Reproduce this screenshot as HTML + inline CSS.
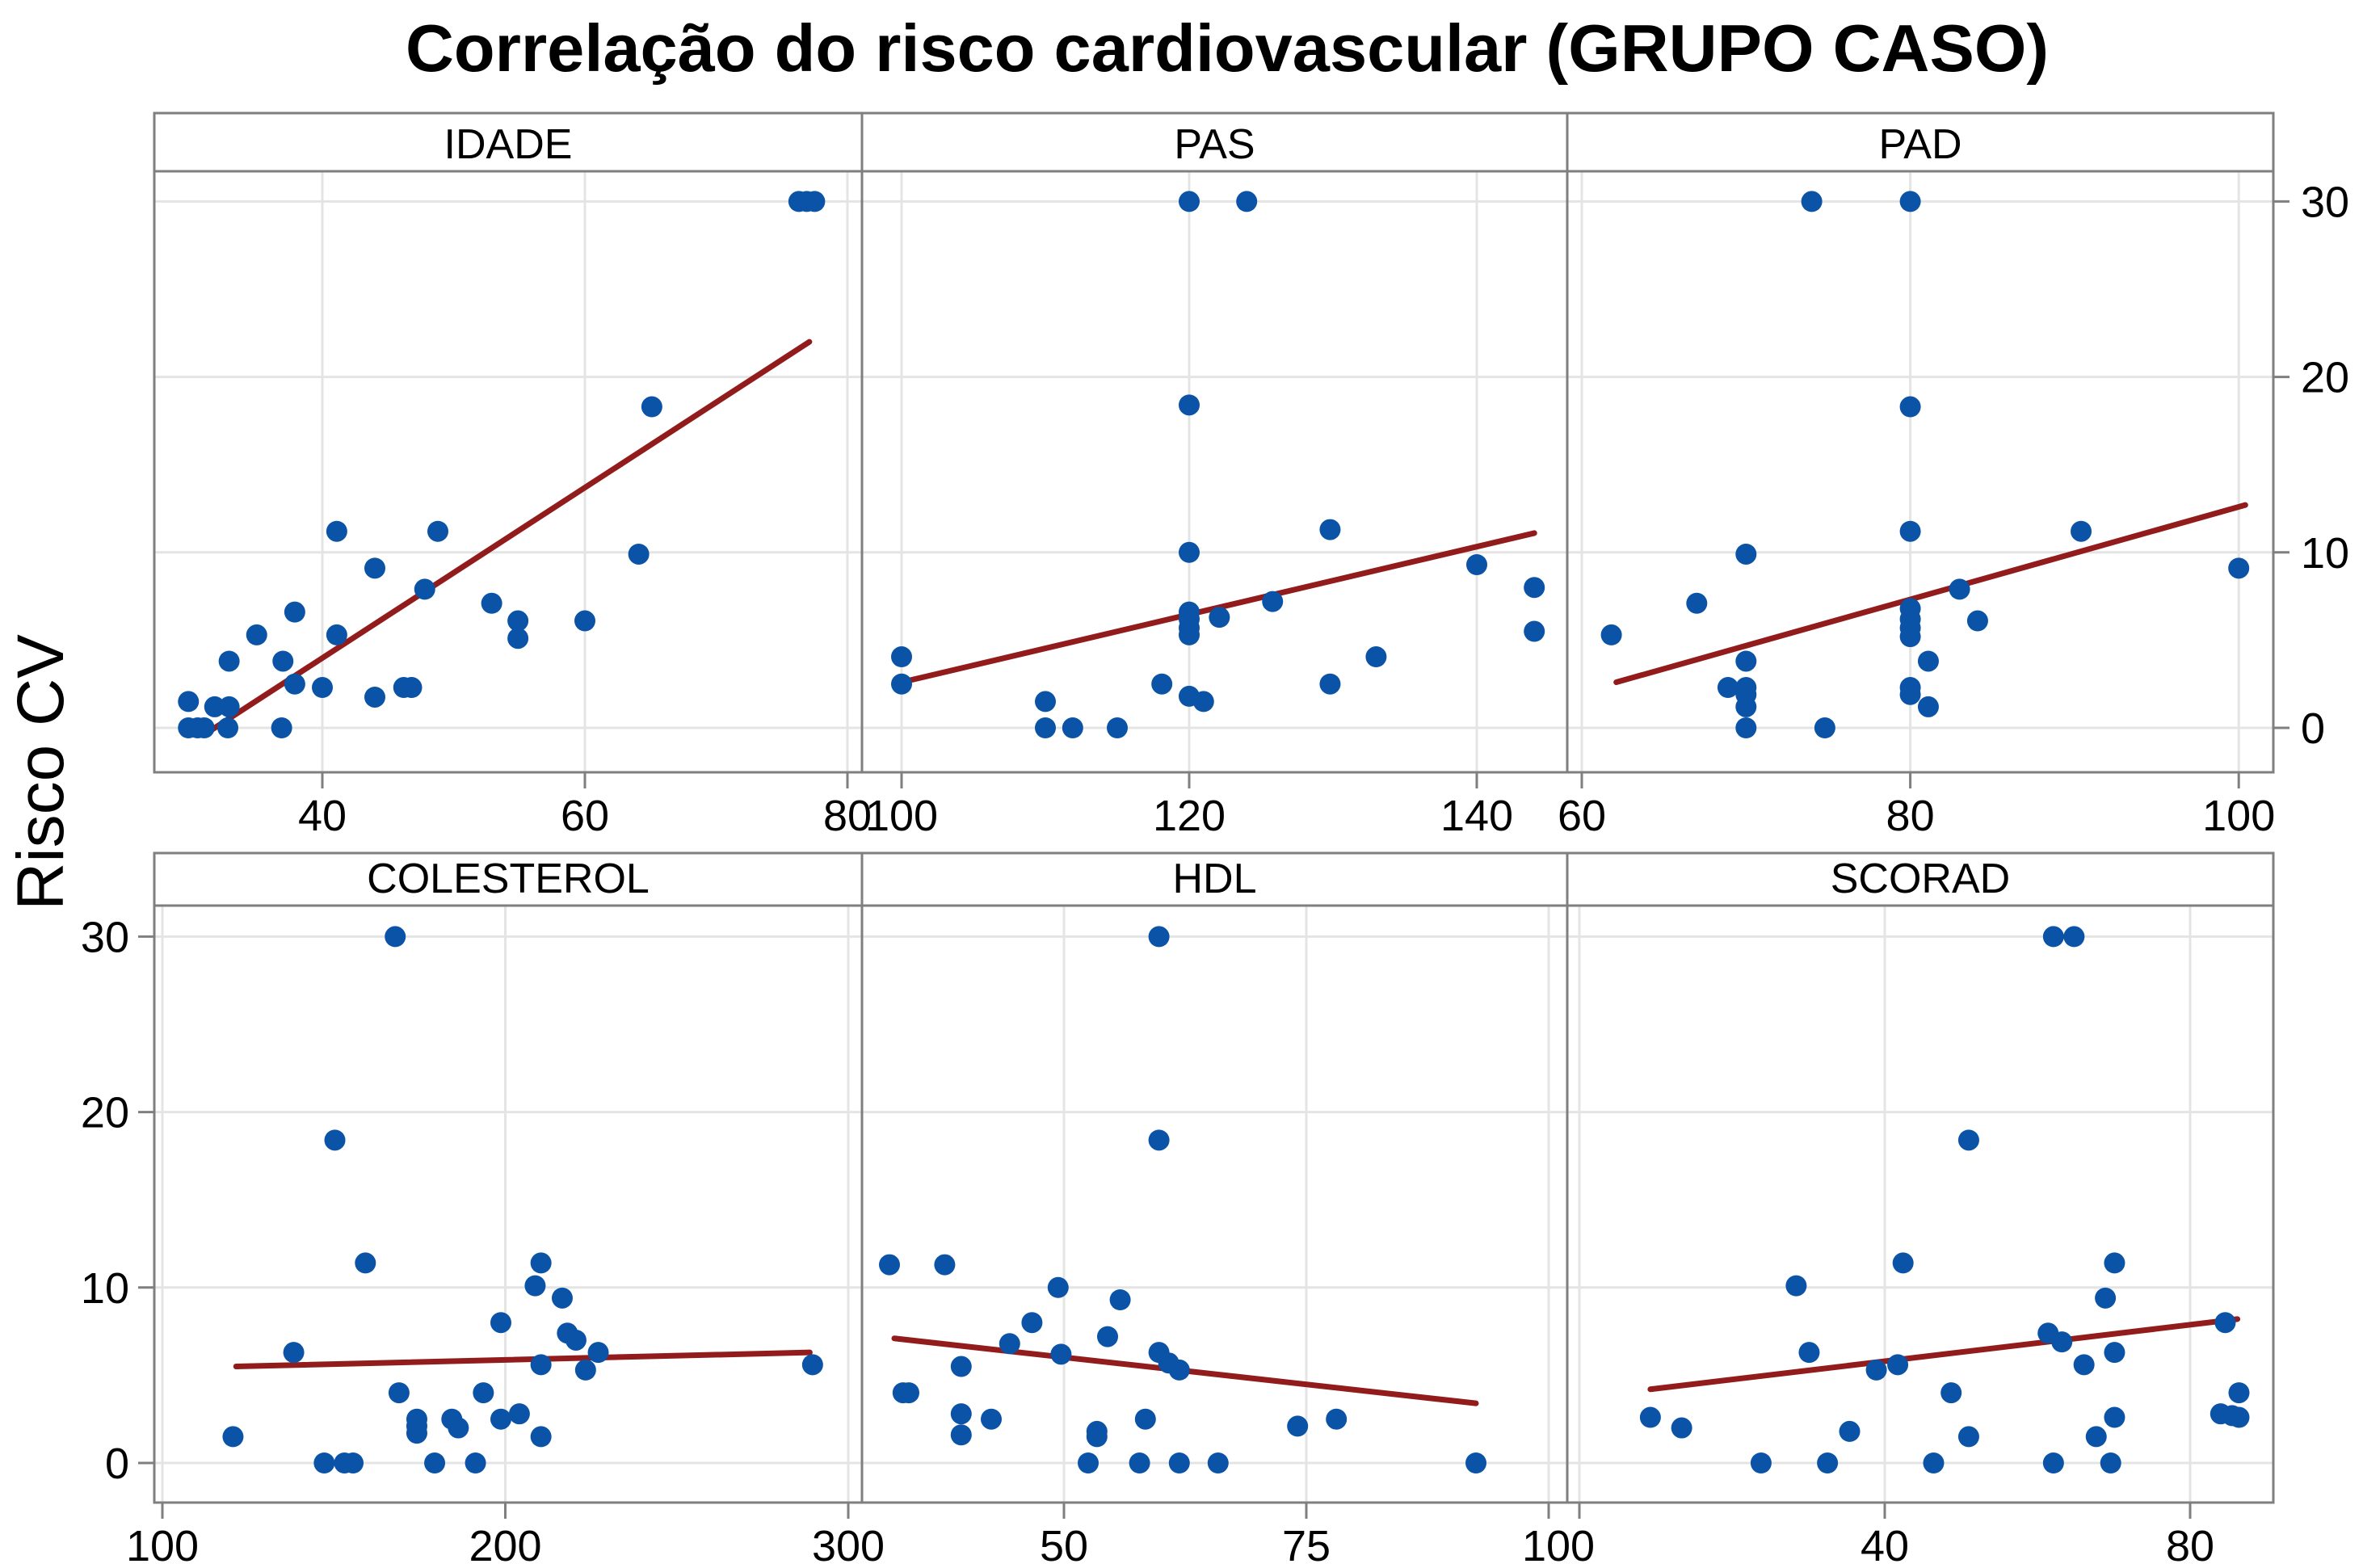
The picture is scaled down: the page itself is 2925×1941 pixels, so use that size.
<!DOCTYPE html>
<html><head><meta charset="utf-8"><style>
html,body{margin:0;padding:0;background:#fff;}
svg{display:block;font-family:"Liberation Sans",Arial,sans-serif;}
</style></head><body>
<svg id="chart" width="2925" height="1941" viewBox="0 0 2925 1941" xmlns="http://www.w3.org/2000/svg">
<text x="1519" y="88" text-anchor="middle" font-size="83" font-weight="bold">Correlação do risco cardiovascular (GRUPO CASO)</text>
<text transform="translate(78,956) rotate(-90)" text-anchor="middle" font-size="82">Risco CV</text>
<g id="panels"></g>
</svg>
<script>
// ---- data ----
const panelNames = ["IDADE","PAS","PAD","COLESTEROL","HDL","SCORAD"];
const idadeX = [29.8,30.5,31,32.8,36.9,29.8,31.8,32.9,32.9,35,37,37.9,37.9,40,41.1,41.1,44,44,46.2,46.8,47.8,48.8,52.9,54.9,54.9,60,64.1,65.1,76.3,76.9,77.5];
const idadeY = [0,0,0,0,0,1.5,1.2,1.2,3.8,5.3,3.8,6.6,2.5,2.3,5.3,11.2,9.1,1.75,2.3,2.3,7.9,11.2,7.1,6.1,5.1,6.1,9.9,18.3,30,30,30];
const pasX = [100,100,110,110,111.9,115,118.1,120,121,120,120,120,124,120,120,120,120,122.1,125.8,129.8,129.8,133,140,144,144];
const pasY = [4.05,2.5,1.5,0,0,0,2.5,1.8,1.5,10,18.4,30,30,5.3,5.7,6.2,6.6,6.3,7.2,11.3,2.5,4.05,9.3,8,5.5];
const padX = [74,80,80,80,90.4,70,100,67,83,84.1,61.8,80,80,80,80,81.1,70,68.9,70,70,70,80,80,81.1,70,74.8];
const padY = [30,30,18.3,11.2,11.2,9.9,9.1,7.1,7.9,6.1,5.3,6.8,6.2,5.7,5.2,3.8,3.8,2.3,2.3,1.9,1.2,2.3,1.9,1.2,0,0];
const colX = [120.6,138.3,147.2,150.3,153.1,155.6,159.2,167.9,169,174.2,174.2,174.2,179.4,184.4,186.3,191.3,193.6,198.7,198.7,204.1,208.7,210.4,210.4,210.4,216.6,218.1,220.6,223.4,227.1,289.6];
const colY = [1.5,6.3,0,18.4,0,0,11.4,30,4,2.5,2.1,1.7,0,2.5,2,0,4,8,2.5,2.8,10.1,11.4,5.6,1.5,9.4,7.4,7,5.3,6.3,5.6];
const hdlX = [32,33.4,34,37.7,39.4,39.4,39.4,42.5,44.4,46.7,49.4,49.7,52.5,53.4,53.4,54.5,55.8,57.8,58.4,59.8,59.8,59.8,60.8,61.9,61.9,65.9,74.1,78.1,92.5];
const hdlY = [11.3,4,4,11.3,5.5,2.8,1.6,2.5,6.8,8,10,6.2,0,1.8,1.5,7.2,9.3,0,2.5,30,18.4,6.3,5.7,5.3,0,0,2.1,2.5,0];
const scoX = [9.3,13.4,23.8,28.4,30.1,32.5,35.4,38.9,41.7,42.4,46.4,48.7,51,51,61.4,62.1,62.1,63.2,64.8,66.1,67.7,68.9,69.6,70.1,70.1,70.1,84,84.6,85.5,86.4,86.4];
const scoY = [2.6,2,0,10.1,6.3,0,1.8,5.3,5.6,11.4,0,4,18.4,1.5,7.4,30,0,6.9,30,5.6,1.5,9.4,0,11.4,6.3,2.6,2.8,8,2.7,4,2.6];
// fitted line endpoints [x0,y0,x1,y1]
const idadeFit = [31.6,-0.1,77.1,22];
const pasFit = [100,2.6,144,11.1];
const padFit = [62.1,2.6,100.4,12.7];
const colFit = [121.5,5.5,288.8,6.3];
const hdlFit = [32.5,7.1,92.5,3.4];
const scoFit = [9.3,4.2,86.2,8.2];
const idadeTicks = [40,60,80];
const pasTicks = [100,120,140];
const padTicks = [60,80,100];
const colTicks = [100,200,300];
const hdlTicks = [50,75,100];
const scoTicks = [0,40,80];
const yTicks = [0,10,20,30];

// ---- layout ----
const NS = "http://www.w3.org/2000/svg";
const g = document.getElementById("panels");
function mk(tag, attrs, parent){const e=document.createElementNS(NS,tag);for(const k in attrs)e.setAttribute(k,attrs[k]);(parent||g).appendChild(e);return e;}
const cols = [[191,1067],[1067,1940],[1940,2814]];
const rows = [{st:140,pt:212,pb:956,y0:901},{st:1056,pt:1121,pb:1860,y0:1811}];
const yScale = 21.72;
const xMaps = [
 {o:399,v0:40,k:16.25},{o:1116,v0:100,k:17.8},{o:1958,v0:60,k:20.33},
 {o:201,v0:100,k:4.245},{o:1317,v0:50,k:12.0},{o:2333,v0:40,k:9.45}];
const xs = [idadeX,pasX,padX,colX,hdlX,scoX];
const ys = [idadeY,pasY,padY,colY,hdlY,scoY];
const fits = [idadeFit,pasFit,padFit,colFit,hdlFit,scoFit];
const ticks = [idadeTicks,pasTicks,padTicks,colTicks,hdlTicks,scoTicks];
const hideLabel = [[],[],[],[],[],[0]];
const labelShift = [[0,0,0],[0,0,0],[0,0,0],[0,0,0],[0,0,12],[0,0,0]];

for(let p=0;p<6;p++){
  const r = rows[Math.floor(p/3)], c = cols[p%3];
  const m = xMaps[p];
  const X = v => m.o + (v-m.v0)*m.k;
  const Y = v => r.y0 - v*yScale;
  const pg = mk("g",{});
  
  
  const cid = "clip"+p;
  const cp = mk("clipPath",{id:cid},pg);
  mk("rect",{x:c[0],y:r.pt,width:c[1]-c[0],height:r.pb-r.pt},cp);
  const grid = mk("g",{"clip-path":"url(#"+cid+")"},pg);
  
  
  yTicks.forEach(t=>{mk("line",{x1:c[0],x2:c[1],y1:Y(t),y2:Y(t),stroke:"#e4e4e4","stroke-width":3},grid);});
  ticks[p].forEach(t=>{mk("line",{x1:X(t),x2:X(t),y1:r.pt,y2:r.pb,stroke:"#e4e4e4","stroke-width":3},grid);});
  const f = fits[p];
  const ln = mk("line",{x1:X(f[0]),y1:Y(f[1]),x2:X(f[2]),y2:Y(f[3]),stroke:"#921c1c","stroke-width":7,"stroke-linecap":"round"},pg);
  
  
  for(let i=0;i<xs[p].length;i++){
    const d = mk("circle",{cx:X(xs[p][i]),cy:Y(ys[p][i]),r:13,fill:"#0a53a6"},pg);
    
    
  }
  const s = mk("rect",{x:c[0],y:r.st,width:c[1]-c[0],height:r.pt-r.st,fill:"#fff",stroke:"#7f7f7f","stroke-width":3},pg);
  
  
  const st = mk("text",{x:(c[0]+c[1])/2,y:r.pt-16,"text-anchor":"middle","font-size":52},pg);
  st.textContent = panelNames[p];
  
  
  const fr = mk("rect",{x:c[0],y:r.pt,width:c[1]-c[0],height:r.pb-r.pt,fill:"none",stroke:"#7f7f7f","stroke-width":3},pg);
  
  
  ticks[p].forEach((t,i)=>{
    mk("line",{x1:X(t),x2:X(t),y1:r.pb,y2:r.pb+20,stroke:"#7f7f7f","stroke-width":3},pg);
    if(hideLabel[p].includes(t)) return;
    const tl = mk("text",{x:X(t)+labelShift[p][i],y:r.pb+72,"text-anchor":"middle","font-size":54},pg);
    tl.textContent = t;
    
    
  });
}
yTicks.forEach(t=>{
  const yt = rows[0].y0 - t*yScale;
  mk("line",{x1:2814,x2:2834,y1:yt,y2:yt,stroke:"#7f7f7f","stroke-width":3});
  const a = mk("text",{x:2848,y:yt+19,"font-size":54});
  a.textContent = t;
  
  
  const yb = rows[1].y0 - t*yScale;
  mk("line",{x1:171,x2:191,y1:yb,y2:yb,stroke:"#7f7f7f","stroke-width":3});
  const b = mk("text",{x:160,y:yb+19,"font-size":54,"text-anchor":"end"});
  b.textContent = t;
  
  
});
</script>
</body></html>
